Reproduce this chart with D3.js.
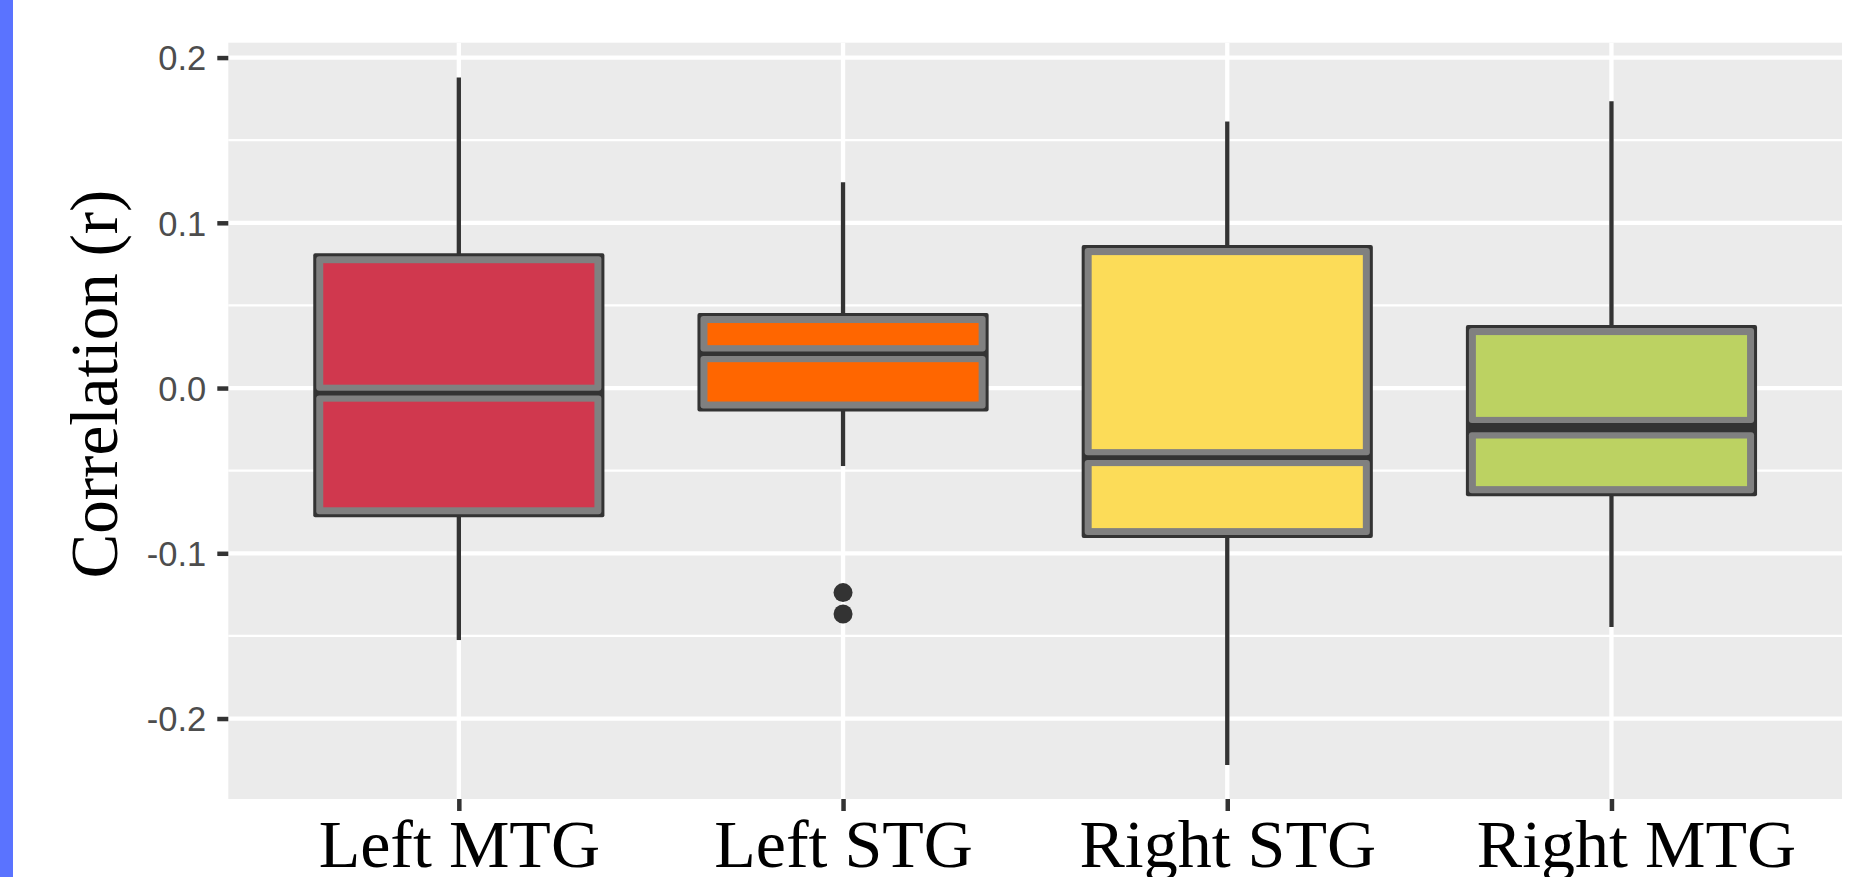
<!DOCTYPE html>
<html>
<head>
<meta charset="utf-8">
<script src="https://cdn.jsdelivr.net/npm/d3@7"></script>
<style>
  html, body { margin: 0; padding: 0; background: #fff; }
  svg { display: block; }
</style>
</head>
<body>
<div id="chart"></div>
<script>
// Data
const categories = ["Left MTG", "Left STG", "Right STG", "Right MTG"];
const whiskerLow = [-0.1525, -0.0472, -0.2281, -0.1446];
const q1 = [-0.0773, -0.0133, -0.0899, -0.0645];
const medians = [-0.0031, 0.0208, -0.0421, -0.0226];
const medians2 = [-0.0031, 0.0208, -0.0421, -0.0254]; // second layer's median (only differs for Right MTG)
const q3 = [0.0807, 0.0445, 0.0856, 0.0372];
const whiskerHigh = [0.1879, 0.1245, 0.1613, 0.1735];
const outliers = [[], [-0.1238, -0.1367], [], []];
const yTicks = [-0.2, -0.1, 0.0, 0.1, 0.2];
const yTickLabels = ["-0.2", "-0.1", "0.0", "0.1", "0.2"];
const yMinor = [-0.15, -0.05, 0.05, 0.15];
const palette = ["#D0384E", "#FF6600", "#FCDC58", "#BCD262"];

const width = 1869;
const height = 877;
const panel = { left: 228.3, right: 1842, top: 42.7, bottom: 799 };

const svg = d3.select("#chart")
  .append("svg")
  .attr("width", width)
  .attr("height", height);

// blue strip on the left edge
svg.append("rect")
  .attr("x", 0).attr("y", 0)
  .attr("width", 13).attr("height", height)
  .attr("fill", "#5A73FF");

const x = d3.scalePoint()
  .domain(categories)
  .range([panel.left, panel.right])
  .padding(0.6);

const y = d3.scaleLinear()
  .domain([-0.2487, 0.2090])
  .range([panel.bottom, panel.top]);

const halfW = x.step() * 0.375;

// panel background
svg.append("rect")
  .attr("x", panel.left).attr("y", panel.top)
  .attr("width", panel.right - panel.left)
  .attr("height", panel.bottom - panel.top)
  .attr("fill", "#EBEBEB");

// grid lines
svg.selectAll("line.minor")
  .data(yMinor)
  .join("line")
  .attr("class", "minor")
  .attr("x1", panel.left).attr("x2", panel.right)
  .attr("y1", d => y(d)).attr("y2", d => y(d))
  .attr("stroke", "#fff")
  .attr("stroke-width", 2.2);

svg.selectAll("line.major")
  .data(yTicks)
  .join("line")
  .attr("class", "major")
  .attr("x1", panel.left).attr("x2", panel.right)
  .attr("y1", d => y(d)).attr("y2", d => y(d))
  .attr("stroke", "#fff")
  .attr("stroke-width", 4.3);

svg.selectAll("line.vmajor")
  .data(categories)
  .join("line")
  .attr("class", "vmajor")
  .attr("x1", d => x(d)).attr("x2", d => x(d))
  .attr("y1", panel.top).attr("y2", panel.bottom)
  .attr("stroke", "#fff")
  .attr("stroke-width", 4.3);

// boxes
const dark = "#333333";
const grey = "#808080";

categories.forEach((cat, i) => {
  const cx = x(cat);
  const g = svg.append("g");

  // whiskers
  g.append("line")
    .attr("x1", cx).attr("x2", cx)
    .attr("y1", y(q3[i])).attr("y2", y(whiskerHigh[i]))
    .attr("stroke", dark).attr("stroke-width", 4.3);
  g.append("line")
    .attr("x1", cx).attr("x2", cx)
    .attr("y1", y(q1[i])).attr("y2", y(whiskerLow[i]))
    .attr("stroke", dark).attr("stroke-width", 4.3);

  // dark outer box
  g.append("rect")
    .attr("x", cx - halfW - 1.5)
    .attr("y", y(q3[i]) - 1.5)
    .attr("width", 2 * halfW + 3)
    .attr("height", y(q1[i]) - y(q3[i]) + 3)
    .attr("rx", 2)
    .attr("fill", dark);

  const medHi = Math.max(medians[i], medians2[i]);
  const medLo = Math.min(medians[i], medians2[i]);
  const halves = [
    { top: y(q3[i]), bottom: y(medHi), insTop: 1.5, insBot: 2.3 },
    { top: y(medLo), bottom: y(q1[i]), insTop: 2.3, insBot: 1.5 }
  ];

  halves.forEach(h => {
    g.append("rect")
      .attr("x", cx - halfW + 1.5)
      .attr("y", h.top + h.insTop)
      .attr("width", 2 * halfW - 3)
      .attr("height", Math.max(0, h.bottom - h.top - h.insTop - h.insBot))
      .attr("rx", 3)
      .attr("fill", grey);
    g.append("rect")
      .attr("x", cx - halfW + 8.5)
      .attr("y", h.top + 8.5)
      .attr("width", 2 * halfW - 17)
      .attr("height", Math.max(0, h.bottom - h.top - 17))
      .attr("fill", palette[i]);
  });

  // outliers
  g.selectAll("circle")
    .data(outliers[i])
    .join("circle")
    .attr("cx", cx)
    .attr("cy", d => y(d))
    .attr("r", 9.5)
    .attr("fill", dark);
});

// y axis
const yAxis = d3.axisLeft(y)
  .tickValues(yTicks)
  .tickFormat((d, i) => yTickLabels[i])
  .tickSize(11)
  .tickPadding(11);

const yg = svg.append("g")
  .attr("transform", `translate(${panel.left},0)`)
  .call(yAxis);
yg.select(".domain").remove();
yg.selectAll(".tick line").attr("stroke", dark).attr("stroke-width", 4.5);
yg.selectAll(".tick text")
  .attr("fill", "#4D4D4D")
  .attr("dy", "0.36em")
  .style("font-family", "'Liberation Sans', Arial, sans-serif")
  .style("font-size", "34.5px");

// x axis
const xAxis = d3.axisBottom(x)
  .tickSize(12)
  .tickPadding(8);

// the last label sits a little right of its tick in the reference
const labelShift = { "Right MTG": 24.5 };

const xg = svg.append("g")
  .attr("transform", `translate(0,${panel.bottom})`)
  .call(xAxis);
xg.select(".domain").remove();
xg.selectAll(".tick line").attr("stroke", dark).attr("stroke-width", 4.5);
xg.selectAll(".tick text")
  .attr("fill", "#000")
  .attr("x", d => labelShift[d] || 0)
  .attr("y", 68)
  .attr("dy", 0)
  .style("font-family", "'Liberation Serif', 'Times New Roman', serif")
  .style("font-size", "68px");

// y axis title
svg.append("text")
  .attr("transform", "translate(117,384) rotate(-90)")
  .attr("text-anchor", "middle")
  .attr("fill", "#000")
  .style("font-family", "'Liberation Serif', 'Times New Roman', serif")
  .style("font-size", "67px")
  .text("Correlation (r)");
</script>
</body>
</html>
